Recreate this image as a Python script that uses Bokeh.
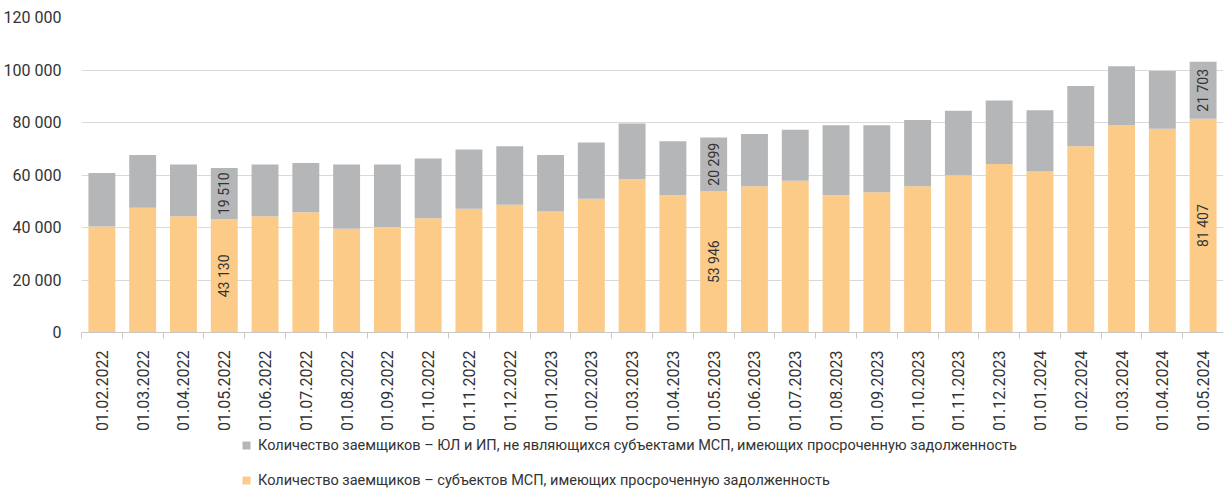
import math
from bokeh.plotting import figure
from bokeh.layouts import column
from bokeh.models import (ColumnDataSource, Range1d, FixedTicker, Legend, LegendItem)
from bokeh.core.properties import value
from bokeh.embed import file_html
from bokeh.resources import INLINE

dates = ["01.02.2022", "01.03.2022", "01.04.2022", "01.05.2022", "01.06.2022", "01.07.2022",
         "01.08.2022", "01.09.2022", "01.10.2022", "01.11.2022", "01.12.2022", "01.01.2023",
         "01.02.2023", "01.03.2023", "01.04.2023", "01.05.2023", "01.06.2023", "01.07.2023",
         "01.08.2023", "01.09.2023", "01.10.2023", "01.11.2023", "01.12.2023", "01.01.2024",
         "01.02.2024", "01.03.2024", "01.04.2024", "01.05.2024"]
msp = [40400, 47500, 44300, 43130, 44300, 45800, 39500, 40200, 43500, 47100, 48700, 46100,
       51000, 58400, 52400, 53946, 55700, 57800, 52400, 53400, 55700, 59900, 64200, 61300,
       71000, 79000, 77600, 81407]
non_msp = [20400, 20100, 19700, 19510, 19700, 18800, 24500, 23800, 22800, 22600, 22300, 21500,
           21400, 21200, 20500, 20299, 19900, 19400, 26600, 25600, 25300, 24600, 24200, 23400,
           22900, 22400, 22000, 21703]
labeled = ["01.05.2022", "01.05.2023", "01.05.2024"]
y_ticks = [0, 20000, 40000, 60000, 80000, 100000, 120000]
y_tick_labels = ["0", "20 000", "40 000", "60 000", "80 000", "100 000", "120 000"]
name_non = "Количество заемщиков – ЮЛ и ИП, не являющихся субъектами МСП, имеющих просроченную задолженность"
name_msp = "Количество заемщиков – субъектов МСП, имеющих просроченную задолженность"

ORANGE = "#FCCB88"
GRAY = "#B5B6B7"
TXT = "#333333"
FONT = "Roboto"

n = len(dates)
xs = list(range(n))
src = ColumnDataSource(dict(x=xs, msp=msp, non=non_msp))

p = figure(width=1223, height=433, output_backend="svg",
           toolbar_location=None, x_range=Range1d(-0.5, n - 0.5), y_range=Range1d(0, 120000),
           min_border_left=72, min_border_right=0, min_border_top=17, min_border_bottom=98)
p.outline_line_color = None
p.background_fill_color = "white"

rs = p.vbar_stack(["msp", "non"], x="x", width=0.66, color=[ORANGE, GRAY], source=src,
                  line_color=None)

# data labels
lx, ly, lt = [], [], []
for i, d in enumerate(dates):
    if d in labeled:
        lx += [i, i]
        ly += [msp[i] / 2, msp[i] + non_msp[i] / 2]
        lt += [f"{msp[i]:,}".replace(",", " "), f"{non_msp[i]:,}".replace(",", " ")]
p.text(x=lx, y=ly, text=lt, angle=math.pi / 2, text_align="center", text_baseline="middle",
       text_font=value(FONT), text_font_size="14px", text_color=TXT)

# axes
p.xgrid.grid_line_color = None
p.ygrid.grid_line_color = "#D9D9D9"
p.ygrid.grid_line_width = 1

p.yaxis.ticker = FixedTicker(ticks=y_ticks)
p.yaxis.major_label_overrides = {t: l for t, l in zip(y_ticks, y_tick_labels)}
p.yaxis.axis_line_color = None
p.yaxis.major_tick_line_color = None
p.yaxis.minor_tick_line_color = None
p.yaxis.major_label_standoff = 14
p.yaxis.major_label_text_font = FONT
p.yaxis.major_label_text_font_size = "16px"
p.yaxis.major_label_text_color = TXT

p.xaxis.ticker = FixedTicker(ticks=xs, minor_ticks=[i - 0.5 for i in range(n + 1)])
p.xaxis.major_label_overrides = {i: d for i, d in enumerate(dates)}
p.xaxis.major_label_orientation = math.pi / 2
p.xaxis.axis_line_color = "#C8C8C8"
p.xaxis.major_tick_line_color = None
p.xaxis.minor_tick_line_color = "#C8C8C8"
p.xaxis.minor_tick_in = 0
p.xaxis.minor_tick_out = 6
p.xaxis.major_label_standoff = 12
p.xaxis.major_label_text_font = FONT
p.xaxis.major_label_text_font_size = "16px"
p.xaxis.major_label_text_color = TXT

# legend figure
q = figure(width=1223, height=57, output_backend="svg", toolbar_location=None,
           x_range=Range1d(0, 1), y_range=Range1d(0, 1),
           x_axis_location=None, y_axis_location=None,
           min_border_left=0, min_border_right=0, min_border_top=0, min_border_bottom=0)
q.grid.visible = False
q.outline_line_color = None
g_non = q.quad(left=[-3], right=[-2], bottom=[-3], top=[-2], fill_color=GRAY, line_color=None)
g_msp = q.quad(left=[-3], right=[-2], bottom=[-3], top=[-2], fill_color=ORANGE, line_color=None)
legend = Legend(items=[LegendItem(label=name_non, renderers=[g_non]),
                       LegendItem(label=name_msp, renderers=[g_msp])],
                orientation="vertical", location=(160, 0))
legend.glyph_width = 10
legend.glyph_height = 10
legend.label_height = 20
legend.spacing = 15
legend.padding = 0
legend.margin = 0
legend.label_standoff = 7
legend.border_line_color = None
legend.background_fill_alpha = 0
legend.label_text_font = FONT
legend.label_text_font_size = "14.5px"
legend.label_text_color = TXT
q.add_layout(legend, "center")

open("out.html", "w").write(file_html(column(p, q, spacing=0), INLINE))
